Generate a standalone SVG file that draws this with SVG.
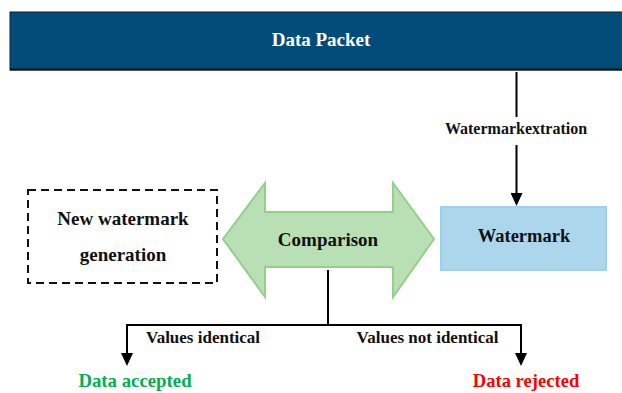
<svg xmlns="http://www.w3.org/2000/svg" width="622" height="393" viewBox="0 0 622 393">
<style>
text{font-family:"Liberation Serif","Times New Roman",serif;font-weight:bold;text-anchor:middle}
.lbl{font-size:16px;fill:#111}
.val{font-size:17px;fill:#111}
.big{font-size:19px;fill:#111}
.line{stroke:#000;stroke-width:2;fill:none}
</style>
<defs>
<marker id="ah" markerWidth="13" markerHeight="12" refX="0" refY="6" orient="auto" markerUnits="userSpaceOnUse" viewBox="0 0 13 12">
<path d="M0,0 L13,6 L0,12 Z" fill="#000"/>
</marker>
</defs>
<rect width="622" height="393" fill="#fff"/>
<g id="packet">
<rect x="10" y="12" width="614" height="58" fill="#034c7a" stroke="#0b2233" stroke-width="1"/>
<line x1="10" y1="69.5" x2="622" y2="69.5" stroke="#111" stroke-width="2"/>
<text x="321" y="46" style="font-size:19px;fill:#fff">Data Packet</text>
</g>
<g id="newwm">
<rect x="28" y="190" width="189" height="93" fill="#fff" stroke="#111" stroke-width="2" stroke-dasharray="8,5"/>
<text class="big" x="123" y="225">New watermark</text>
<text class="big" x="123" y="261">generation</text>
</g>
<g id="comparison">
<polygon points="223,239 265,183 265,212 393,212 393,183 434,239 393,297 393,267 265,267 265,297" fill="#b9dfb5" stroke="#92d08c" stroke-width="2" stroke-linejoin="miter"/>
<text class="big" x="328" y="246">Comparison</text>
</g>
<g id="watermark">
<rect x="441" y="207" width="165" height="63" fill="#acd6ec" stroke="#9dcff0" stroke-width="2"/>
<text x="524" y="242" style="font-size:18.5px;fill:#111">Watermark</text>
</g>
<g id="accepted">
<text x="135" y="387" style="font-size:18.8px;fill:#00b050">Data accepted</text>
</g>
<g id="rejected">
<text x="526" y="387" style="font-size:18.6px;fill:#ff0000">Data rejected</text>
</g>
<g id="connectors">
<line class="line" x1="516.5" y1="72" x2="516.5" y2="117"/>
<line class="line" x1="516.5" y1="145" x2="516.5" y2="193" marker-end="url(#ah)"/>
<text class="lbl" x="516" y="134">Watermarkextration</text>
<line class="line" x1="328" y1="270" x2="328" y2="325"/>
<line class="line" x1="126" y1="325" x2="522" y2="325"/>
<line class="line" x1="127" y1="324" x2="127" y2="353" marker-end="url(#ah)"/>
<line class="line" x1="521" y1="324" x2="521" y2="353" marker-end="url(#ah)"/>
<text class="val" x="203" y="343">Values identical</text>
<text class="val" x="427.5" y="343">Values not identical</text>
</g>
</svg>
